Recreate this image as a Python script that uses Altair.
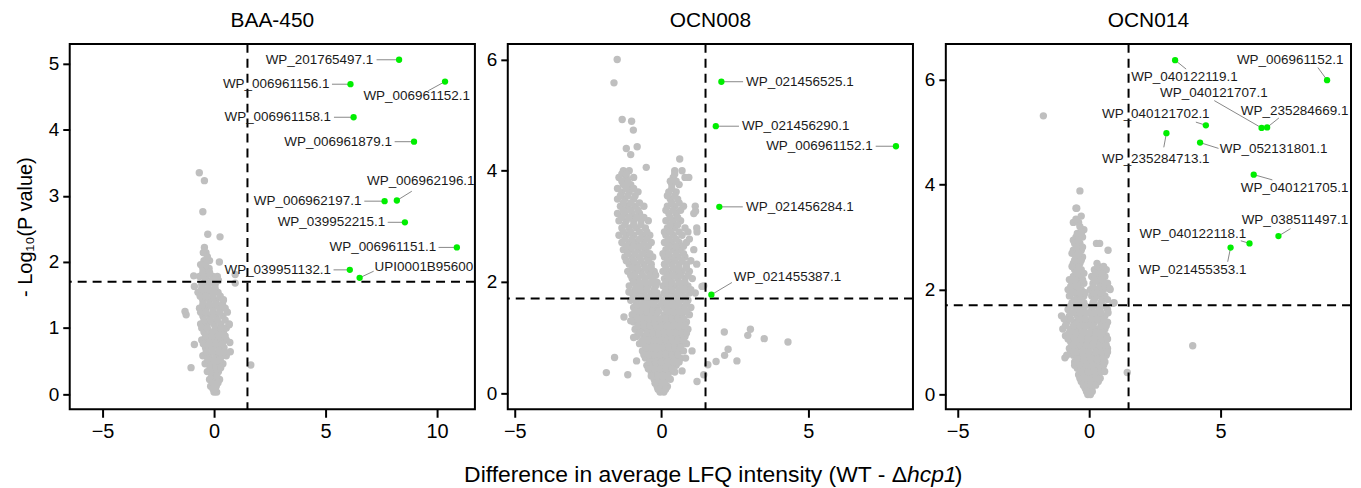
import altair as alt
import pandas as pd

FONT = "Liberation Sans"

# ---------------- Panel 1: BAA-450 ----------------
P1_ROWS = [
    (0.03, [0.0, 0.12]),
    (0.12, [-0.15, 0.1]),
    (0.22, [-0.2, 0.05, 0.25]),
    (0.34, [-0.3, -0.05, 0.2]),
    (0.46, [-0.4, -0.12, 0.15, 0.4]),
    (0.58, [-0.5, -0.22, 0.08, 0.35, 0.55]),
    (0.70, [-0.38, -0.1, 0.2, 0.45]),
    (0.82, [-0.55, -0.25, 0.05, 0.3, 0.55]),
    (0.94, [-0.45, -0.15, 0.15, 0.42]),
    (1.06, [-0.6, -0.3, 0.0, 0.3, 0.68]),
    (1.18, [-0.5, -0.2, 0.1, 0.4]),
    (1.30, [-0.65, -0.35, -0.05, 0.25, 0.5]),
    (1.42, [-0.5, -0.2, 0.1, 0.42]),
    (1.54, [-0.72, -0.42, -0.12, 0.18]),
    (1.66, [-0.55, -0.25, 0.05]),
    (1.78, [-0.65, -0.35, -0.05, 0.15]),
    (1.90, [-0.5, -0.22]),
    (2.02, [-0.45, -0.2]),
    (2.14, [-0.36, -0.48]),
]
P1_ROWS_B = [
    (0.08, [-0.05, 0.05]),
    (0.17, [-0.05, 0.18]),
    (0.28, [-0.1, 0.12]),
    (0.40, [-0.18, 0.08, 0.3]),
    (0.52, [-0.28, 0.0, 0.28]),
    (0.64, [-0.35, -0.05, 0.22, 0.45]),
    (0.76, [-0.48, -0.2, 0.1, 0.38]),
    (0.88, [-0.38, -0.08, 0.2, 0.5]),
    (1.00, [-0.55, -0.3, 0.05, 0.3, 0.55]),
    (1.12, [-0.45, -0.15, 0.15, 0.5]),
    (1.24, [-0.6, -0.35, -0.05, 0.25, 0.6]),
    (1.36, [-0.5, -0.2, 0.1, 0.38]),
    (1.48, [-0.62, -0.35, -0.05, 0.28]),
    (1.60, [-0.55, -0.25, 0.05]),
    (1.72, [-0.4, -0.1, 0.2]),
    (1.84, [-0.5, -0.2]),
    (1.96, [-0.38, -0.6]),
    (2.08, [-0.3]),
]
P1_OUT_X = [-0.66, -0.43, -0.50, -0.28, 0.27, -0.43, 0.24, -0.91, 0.95, 0.95, -0.88,
            -1.25, -1.30, -0.88, 0.71, 0.73, 1.65, -1.03, 0.42, 0.68]
P1_OUT_Y = [3.35, 3.23, 2.76, 2.42, 2.38, 2.22, 2.00, 1.79, 1.81, 1.68, 1.63,
            1.20, 1.25, 0.75, 0.78, 0.64, 0.44, 0.40, 1.43, 1.05]

P1_NAMES = ["WP_201765497.1", "WP_006961156.1", "WP_006961152.1", "WP_006961158.1",
            "WP_006961879.1", "WP_006962196.1", "WP_006962197.1", "WP_039952215.1",
            "WP_006961151.1", "WP_039951132.1", "UPI0001B95600"]
P1_X = [8.30, 6.12, 10.36, 6.26, 8.97, 8.20, 7.65, 8.56, 10.89, 6.09, 6.53]
P1_Y = [5.06, 4.69, 4.73, 4.19, 3.82, 2.93, 2.92, 2.60, 2.22, 1.88, 1.76]
P1_TX = [7.14, 5.18, 6.70, 5.25, 7.98, 6.86, 6.61, 7.68, 9.96, 5.25, 7.20]
P1_TY = [5.06, 4.69, 4.51, 4.19, 3.82, 3.23, 2.92, 2.60, 2.22, 1.88, 1.92]
P1_ALIGN = ["right", "right", "left", "right", "right", "left", "right", "right", "right", "right", "left"]
P1_LX = [7.29, 5.29, 9.60, 5.38, 8.10, 8.87, 6.74, 7.79, 10.07, 5.36, 7.16]
P1_LY = [5.06, 4.69, 4.59, 4.19, 3.82, 3.07, 2.92, 2.60, 2.22, 1.88, 1.86]

# ---------------- Panel 2: OCN008 ----------------
P2_ROWS = [
    (0.02, [-0.05, 0.08]),
    (0.12, [-0.15, 0.05, 0.2]),
    (0.25, [-0.25, -0.05, 0.15, 0.3]),
    (0.38, [-0.35, -0.15, 0.05, 0.25, 0.45]),
    (0.50, [-0.5, -0.3, -0.1, 0.1, 0.3, 0.5]),
    (0.63, [-0.55, -0.35, -0.15, 0.05, 0.25, 0.45, 0.65]),
    (0.76, [-0.65, -0.45, -0.25, -0.05, 0.15, 0.35, 0.55, 0.75]),
    (0.89, [-0.75, -0.55, -0.35, -0.15, 0.05, 0.25, 0.45, 0.65, 0.85]),
    (1.02, [-0.85, -0.6, -0.4, -0.2, 0.0, 0.2, 0.4, 0.6, 0.8]),
    (1.15, [-0.9, -0.7, -0.5, -0.3, -0.1, 0.1, 0.3, 0.5, 0.7, 0.9]),
    (1.28, [-0.95, -0.75, -0.55, -0.35, -0.15, 0.05, 0.25, 0.45, 0.65, 0.85]),
    (1.41, [-1.0, -0.8, -0.6, -0.4, -0.2, 0.1, 0.3, 0.5, 0.7, 0.95]),
    (1.54, [-0.95, -0.75, -0.55, -0.35, -0.15, 0.1, 0.3, 0.5, 0.75, 1.0]),
    (1.67, [-1.05, -0.85, -0.6, -0.4, -0.2, 0.05, 0.25, 0.45, 0.65, 0.9]),
    (1.80, [-1.0, -0.8, -0.6, -0.35, -0.15, 0.1, 0.3, 0.5, 0.7, 0.95, 1.15]),
    (1.93, [-1.1, -0.85, -0.65, -0.45, -0.2, 0.05, 0.25, 0.45, 0.7, 0.9]),
    (2.06, [-1.0, -0.8, -0.55, -0.3, 0.1, 0.3, 0.55, 0.8, 1.05]),
    (2.19, [-1.15, -0.9, -0.7, -0.45, -0.25, 0.05, 0.25, 0.5, 0.7, 0.95]),
    (2.32, [-1.1, -0.85, -0.6, -0.35, 0.1, 0.35, 0.6, 0.85, 1.2]),
    (2.45, [-1.25, -1.0, -0.75, -0.5, -0.3, 0.1, 0.3, 0.55, 0.8]),
    (2.58, [-1.3, -1.05, -0.8, -0.55, 0.15, 0.4, 0.65, 1.1]),
    (2.71, [-1.35, -1.1, -0.85, -0.6, -0.35, 0.1, 0.35, 0.6, 0.85]),
    (2.84, [-1.45, -1.2, -0.95, -0.65, -0.4, 0.15, 0.4, 0.7]),
    (2.97, [-1.35, -1.1, -0.85, -0.55, 0.2, 0.45, 0.8, 1.2]),
    (3.10, [-1.45, -1.2, -0.95, -0.7, -0.45, 0.15, 0.4, 0.65]),
    (3.23, [-1.5, -1.25, -1.0, -0.75, 0.25, 0.5, 1.1]),
    (3.36, [-1.4, -1.15, -0.9, -0.6, 0.2, 0.45, 0.75, 1.15]),
    (3.49, [-1.5, -1.25, -0.95, 0.3, 0.55]),
    (3.62, [-1.35, -1.1, -0.8, 0.25, 0.5]),
    (3.75, [-1.3, -1.05, 0.35, 0.6]),
    (3.88, [-1.45, -1.2, -0.95, 0.4, 0.93, 0.8]),
    (4.00, [-1.3, -1.1, 0.7, 0.45]),
    (4.06, [-0.52]),
]
P2_ROWS_B = [
    (0.07, [0.0, -0.12, 0.14]),
    (0.18, [-0.05, 0.12, -0.22]),
    (0.31, [-0.15, 0.05, 0.22, -0.35]),
    (0.44, [-0.45, -0.25, -0.05, 0.15, 0.35]),
    (0.56, [-0.4, -0.2, 0.0, 0.2, 0.4, 0.6]),
    (0.69, [-0.6, -0.45, -0.25, -0.05, 0.15, 0.35, 0.55]),
    (0.82, [-0.55, -0.35, -0.15, 0.05, 0.25, 0.45, 0.65]),
    (0.95, [-0.65, -0.45, -0.25, -0.05, 0.15, 0.35, 0.55, 0.75]),
    (1.08, [-0.75, -0.5, -0.3, -0.1, 0.1, 0.3, 0.5, 0.7, 0.85]),
    (1.21, [-0.8, -0.6, -0.4, -0.2, 0.0, 0.2, 0.4, 0.6, 0.8]),
    (1.34, [-0.85, -0.65, -0.45, -0.25, -0.05, 0.15, 0.35, 0.55, 0.75]),
    (1.47, [-0.9, -0.7, -0.5, -0.3, -0.1, 0.2, 0.4, 0.6, 0.85]),
    (1.60, [-0.85, -0.65, -0.45, -0.25, 0.0, 0.2, 0.4, 0.6, 0.85]),
    (1.73, [-0.95, -0.7, -0.5, -0.3, -0.1, 0.15, 0.35, 0.55, 0.8]),
    (1.86, [-0.9, -0.7, -0.5, -0.25, 0.15, 0.35, 0.6, 0.8, 1.0]),
    (1.99, [-0.95, -0.75, -0.55, -0.35, -0.15, 0.15, 0.35, 0.6, 0.8]),
    (2.12, [-1.05, -0.9, -0.65, -0.4, -0.2, 0.2, 0.4, 0.65, 0.9]),
    (2.25, [-1.0, -0.8, -0.55, -0.35, 0.15, 0.4, 0.6, 0.85]),
    (2.38, [-1.2, -0.95, -0.7, -0.45, 0.2, 0.45, 0.7, 1.0]),
    (2.51, [-1.15, -0.9, -0.65, -0.4, 0.05, 0.25, 0.5, 0.75]),
    (2.64, [-1.2, -0.95, -0.7, -0.45, 0.25, 0.5, 0.75]),
    (2.77, [-1.25, -1.0, -0.75, -0.5, 0.25, 0.5, 0.95]),
    (2.90, [-1.3, -1.05, -0.75, -0.5, 0.1, 0.3, 0.6, 0.9]),
    (3.03, [-1.25, -0.95, -0.7, 0.3, 0.55]),
    (3.16, [-1.35, -1.1, -0.85, -0.6, 0.3, 0.55]),
    (3.29, [-1.3, -1.05, -0.8, 0.15, 0.4, 0.65]),
    (3.42, [-1.3, -1.05, -0.75, 0.35, 0.6]),
    (3.55, [-1.4, -1.15, -0.9, 0.2, 0.45]),
    (3.68, [-1.5, -1.2, -0.95, 0.35]),
    (3.81, [-1.35, -1.15, 0.3, 0.5]),
    (3.94, [-1.35, -1.2, 0.45]),
]
P2_OUT_X = [-1.51, -1.62, -1.34, -1.02, -0.96, -1.20, -0.83, -1.05, 0.62, 1.16, 1.21, 1.38, 1.44,
            2.14, 3.03, 2.94, 3.50, 4.31, 2.27, 2.15, 2.57, 1.86, 1.58, 1.44, 1.21, 1.04, 0.82, 0.70,
            -1.60, -1.88, -1.15, -0.85, -0.95, -1.28, -1.11, -1.05]
P2_OUT_Y = [6.00, 5.58, 4.92, 4.89, 4.73, 4.40, 4.43, 4.29, 4.21, 3.27, 2.90, 1.92, 1.93,
            1.10, 1.15, 1.04, 0.98, 0.92, 0.79, 0.68, 0.58, 0.57, 0.51, 0.33, 0.21, 0.76, 0.63, 0.40,
            0.64, 0.37, 0.33, 0.58, 1.00, 1.37, 1.82, 1.30]

P2_NAMES = ["WP_021456525.1", "WP_021456290.1", "WP_006961152.1", "WP_021456284.1", "WP_021455387.1"]
P2_X = [2.04, 1.85, 7.99, 1.97, 1.70]
P2_Y = [5.60, 4.80, 4.44, 3.35, 1.77]
P2_TX = [2.88, 2.74, 7.20, 2.88, 2.46]
P2_TY = [5.60, 4.80, 4.44, 3.35, 2.08]
P2_ALIGN = ["left", "left", "right", "left", "left"]
P2_LX = [2.78, 2.64, 7.30, 2.77, 2.40]
P2_LY = [5.60, 4.80, 4.44, 3.35, 1.99]

# ---------------- Panel 3: OCN014 ----------------
P3_ROWS = [
    (0.00, [-0.05, 0.05]),
    (0.12, [-0.15, 0.0, 0.1]),
    (0.25, [-0.3, -0.05, 0.2, 0.35]),
    (0.38, [-0.4, -0.15, 0.1, 0.35]),
    (0.50, [-0.45, -0.2, 0.05, 0.3, 0.5]),
    (0.62, [-0.55, -0.3, -0.05, 0.2, 0.45, 0.6]),
    (0.75, [-0.6, -0.35, -0.1, 0.15, 0.4, 0.65]),
    (0.88, [-0.75, -0.5, -0.25, 0.0, 0.25, 0.5, 0.7]),
    (1.00, [-0.7, -0.45, -0.2, 0.1, 0.35, 0.6]),
    (1.12, [-0.9, -0.6, -0.35, -0.1, 0.15, 0.4, 0.65]),
    (1.25, [-1.0, -0.7, -0.45, -0.2, 0.1, 0.35, 0.6]),
    (1.38, [-0.85, -0.55, -0.3, -0.05, 0.2, 0.45, 0.7]),
    (1.50, [-1.05, -0.75, -0.45, -0.2, 0.1, 0.35, 0.6]),
    (1.62, [-0.8, -0.5, -0.25, 0.1, 0.4, 0.7]),
    (1.75, [-0.65, -0.4, -0.2, 0.15, 0.45, 0.95]),
    (1.88, [-0.75, -0.45, -0.2, 0.1, 0.35, 0.6]),
    (2.00, [-0.8, -0.55, -0.3, 0.05, 0.3, 0.55, 0.8]),
    (2.12, [-0.65, -0.4, -0.2, 0.15, 0.4, 0.7]),
    (2.25, [-0.6, -0.35, 0.1, 0.35, 0.6]),
    (2.38, [-0.55, -0.3, 0.2, 0.4, 0.65]),
    (2.50, [-0.6, -0.35, 0.3]),
    (2.62, [-0.5, -0.25]),
    (2.75, [-0.6, -0.3, 0.72]),
    (2.88, [-0.55, -0.35, 0.28, 0.4]),
    (3.00, [-0.5, -0.25]),
    (3.14, [-0.2]),
    (3.28, [-0.6, -0.4]),
    (3.40, [-0.3]),
    (3.55, [-0.5, -0.47]),
    (3.88, [-0.35]),
]
P3_ROWS_B = [
    (0.06, [0.0, -0.1, 0.12]),
    (0.18, [-0.22, -0.08, 0.08, 0.25]),
    (0.31, [-0.35, -0.15, 0.05, 0.25, 0.42]),
    (0.44, [-0.3, -0.05, 0.2, 0.45]),
    (0.56, [-0.55, -0.35, -0.1, 0.15, 0.4, 0.55]),
    (0.68, [-0.45, -0.2, 0.05, 0.3, 0.55]),
    (0.81, [-0.7, -0.5, -0.25, 0.0, 0.25, 0.5, 0.7]),
    (0.94, [-0.6, -0.35, -0.1, 0.15, 0.4, 0.65]),
    (1.06, [-0.8, -0.55, -0.3, -0.05, 0.2, 0.5, 0.7]),
    (1.18, [-0.75, -0.5, -0.25, 0.0, 0.25, 0.5]),
    (1.31, [-0.9, -0.6, -0.35, -0.1, 0.15, 0.45, 0.65]),
    (1.44, [-0.95, -0.7, -0.4, -0.15, 0.1, 0.3, 0.55]),
    (1.56, [-0.65, -0.35, -0.1, 0.2, 0.45, 0.72]),
    (1.69, [-0.7, -0.45, -0.15, 0.1, 0.3, 0.55]),
    (1.81, [-0.55, -0.3, 0.2, 0.5, 0.7]),
    (1.94, [-0.65, -0.35, -0.15, 0.2, 0.45]),
    (2.06, [-0.7, -0.45, 0.15, 0.45, 0.6]),
    (2.19, [-0.75, -0.5, -0.25, 0.2, 0.5]),
    (2.31, [-0.45, -0.2, 0.25, 0.5]),
    (2.44, [-0.65, -0.4, 0.35, 0.55]),
    (2.56, [-0.55, -0.3]),
    (2.69, [-0.65, -0.4]),
    (2.81, [-0.45, -0.25]),
    (2.94, [-0.6, -0.4]),
    (3.07, [-0.45, -0.3]),
    (3.20, [-0.35]),
    (3.34, [-0.5]),
]
P3_OUT_X = [-1.74, 3.94, 1.45, -0.92, -0.85, 0.91, 0.78, 0.59]
P3_OUT_Y = [5.31, 0.93, 0.42, 0.70, 0.75, 1.74, 2.02, 0.44]

P3_NAMES = ["WP_040122119.1", "WP_006961152.1", "WP_040121707.1", "WP_235284669.1",
            "WP_040121702.1", "WP_235284713.1", "WP_052131801.1", "WP_040121705.1",
            "WP_038511497.1", "WP_040122118.1", "WP_021455353.1"]
P3_X = [3.27, 9.05, 6.56, 6.77, 4.44, 2.94, 4.22, 6.26, 7.20, 6.10, 5.38]
P3_Y = [6.37, 5.99, 5.08, 5.09, 5.13, 4.98, 4.80, 4.19, 3.02, 2.88, 2.80]
P3_TX = [1.60, 5.62, 2.70, 5.77, 0.49, 0.49, 4.97, 5.77, 5.80, 1.92, 1.89]
P3_TY = [6.05, 6.38, 5.74, 5.41, 5.35, 4.49, 4.67, 3.93, 3.32, 3.05, 2.37]
P3_ALIGN = ["left"] * 11
P3_LX = [3.69, 8.70, 4.76, 7.22, 4.06, 2.84, 4.92, 6.97, 7.66, 5.77, 5.27]
P3_LY = [6.20, 6.23, 5.60, 5.27, 5.19, 4.71, 4.69, 4.09, 3.16, 2.93, 2.53]

X_CUT = 1.5
Y_CUT = 1.7


def gray_frame(rows, ox, oy):
    xs, ys = [], []
    for y, row in rows:
        for x in row:
            xs.append(x)
            ys.append(y)
    xs += ox
    ys += oy
    return pd.DataFrame({"x": xs, "y": ys})


def make_panel(title, rows, ox, oy, names, px, py, tx, ty, al, lx, ly,
               xdom, ydom, xticks, yticks, ytitle=None, extra=None):
    g = gray_frame(rows, ox, oy)
    s = pd.DataFrame({"name": names, "x": px, "y": py, "tx": tx, "ty": ty,
                      "align": al, "lx": lx, "ly": ly})
    xs = alt.Scale(domain=xdom, nice=False, zero=False)
    ys = alt.Scale(domain=ydom, nice=False, zero=False)
    xa = alt.Axis(values=xticks, title=None, grid=False, domain=False, tickSize=8,
                  tickWidth=2, tickColor="black", labelFontSize=20, labelColor="black",
                  labelPadding=4, format="d", labelFont=FONT)
    yargs = dict(values=yticks, grid=False, domain=False, tickSize=7, tickWidth=2,
                 tickColor="black", labelFontSize=19, labelColor="black", labelPadding=4,
                 format="d", labelFont=FONT)
    if ytitle:
        ya = alt.Axis(title=ytitle, titleFontSize=20, titleFontWeight="normal",
                      titleColor="black", titleFont=FONT, titlePadding=13, **yargs)
    else:
        ya = alt.Axis(title=None, **yargs)

    def X(f):
        return alt.X(f, scale=xs, axis=xa)

    def Y(f):
        return alt.Y(f, scale=ys, axis=ya)

    gray = alt.Chart(g).mark_circle(size=55, color="#bfbfbf", opacity=1).encode(
        x=X("x:Q"), y=Y("y:Q"))
    vline = alt.Chart(pd.DataFrame({"x": [X_CUT]})).mark_rule(
        color="black", strokeWidth=2, strokeDash=[9, 6]).encode(x=X("x:Q"))
    hline = alt.Chart(pd.DataFrame({"y": [Y_CUT]})).mark_rule(
        color="black", strokeWidth=2, strokeDash=[9, 6]).encode(y=Y("y:Q"))
    lead = alt.Chart(s).mark_rule(color="#7a7a7a", strokeWidth=0.9).encode(
        x=X("lx:Q"), y=Y("ly:Q"), x2="x:Q", y2="y:Q")
    green = alt.Chart(s).mark_circle(size=40, color="#00ee00", opacity=1).encode(
        x=X("x:Q"), y=Y("y:Q"))
    layers = [gray, vline, hline, lead, green]
    for a in ["left", "right"]:
        sub = s[s["align"] == a]
        if len(sub):
            layers.append(alt.Chart(sub).mark_text(
                align=a, baseline="middle", fontSize=13.5, font=FONT, color="#1a1a1a").encode(
                x=X("tx:Q"), y=Y("ty:Q"), text="name:N"))
    if extra:
        layers += extra
    return alt.layer(*layers).properties(
        width=407, height=367,
        title=alt.TitleParams(title, fontSize=21, fontWeight="normal", font=FONT,
                              color="black", offset=12))


XT1 = "Difference in average LFQ intensity (WT - \u0394"
XT2 = "hcp1"
XT3 = ")"
XFS = 23
xt = [
    alt.Chart(pd.DataFrame({"t": [XT1]})).mark_text(
        align="right", baseline="alphabetic", fontSize=XFS, font=FONT, color="black").encode(
        x=alt.value(401), y=alt.value(440), text="t:N"),
    alt.Chart(pd.DataFrame({"t": [XT2]})).mark_text(
        align="left", baseline="alphabetic", fontSize=XFS, font=FONT, color="black",
        fontStyle="italic").encode(x=alt.value(401), y=alt.value(440), text="t:N"),
    alt.Chart(pd.DataFrame({"t": [XT3]})).mark_text(
        align="left", baseline="alphabetic", fontSize=XFS, font=FONT, color="black").encode(
        x=alt.value(449), y=alt.value(440), text="t:N"),
]

p1 = make_panel("BAA-450", P1_ROWS + P1_ROWS_B, P1_OUT_X, P1_OUT_Y, P1_NAMES, P1_X, P1_Y,
                P1_TX, P1_TY, P1_ALIGN, P1_LX, P1_LY, [-6.47, 11.7], [-0.23, 5.3],
                [-5, 0, 5, 10], [0, 1, 2, 3, 4, 5], ytitle="- Log\u2081\u2080(P value)")
p2 = make_panel("OCN008", P2_ROWS + P2_ROWS_B, P2_OUT_X, P2_OUT_Y, P2_NAMES, P2_X, P2_Y,
                P2_TX, P2_TY, P2_ALIGN, P2_LX, P2_LY, [-5.24, 8.57], [-0.29, 6.28],
                [-5, 0, 5], [0, 2, 4, 6], extra=xt)
p3 = make_panel("OCN014", P3_ROWS + P3_ROWS_B, P3_OUT_X, P3_OUT_Y, P3_NAMES, P3_X, P3_Y,
                P3_TX, P3_TY, P3_ALIGN, P3_LX, P3_LY, [-5.45, 9.96], [-0.28, 6.68],
                [-5, 0, 5], [0, 2, 4, 6])

chart = alt.hconcat(p1, p2, p3, spacing=33, bounds="flush").properties(
    padding={"left": 6, "top": 0, "right": 0, "bottom": 0}
).configure(font=FONT).configure_view(stroke="black", strokeWidth=2)

chart.save("out.html", embed_options={"renderer": "svg", "actions": False})
